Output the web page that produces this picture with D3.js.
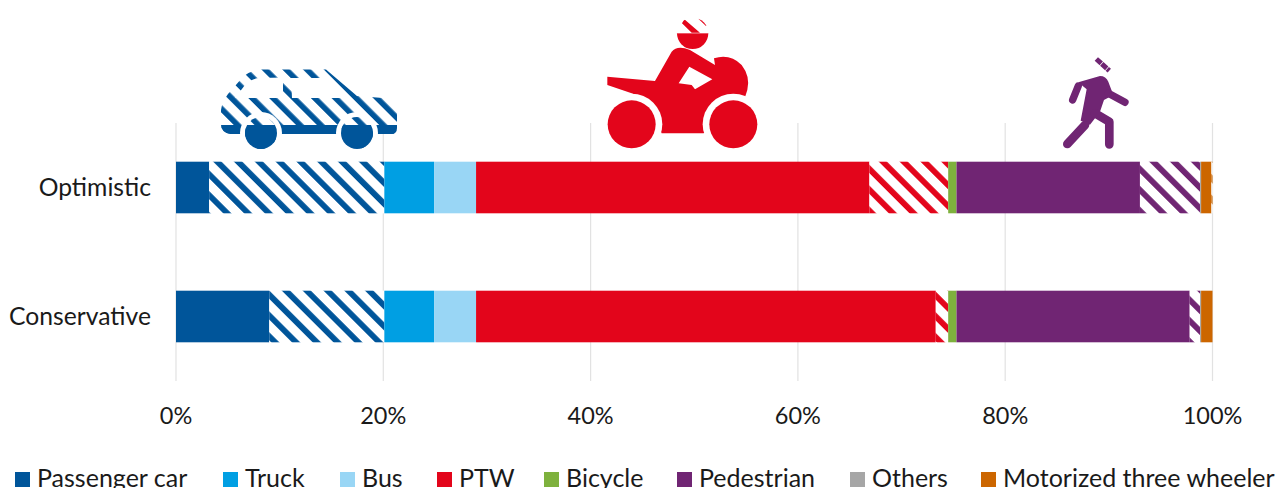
<!DOCTYPE html>
<html><head><meta charset="utf-8">
<script src="https://cdn.jsdelivr.net/npm/d3@7"></script>
<style>html,body{margin:0;padding:0;background:#fff;overflow:hidden}svg{display:block}text{font-family:Lato,"Open Sans",sans-serif;fill:#1a1a1a}</style>
</head><body><div id="chart"></div>
<script>
const categories = ["Optimistic", "Conservative"];
const tickValues = [0, 20, 40, 60, 80, 100];
const legendLabels = ["Passenger car", "Truck", "Bus", "PTW", "Bicycle", "Pedestrian", "Others", "Motorized three wheeler"];
const legendColors = ["#00559A", "#009FE3", "#99D6F5", "#E3051B", "#7EB13D", "#702573", "#A6A6A6", "#CC6600"];
const legendX = [15, 223, 340, 437, 544, 677, 850, 981];
// segment order: [legend colour index, hatched?]
const segmentColor = [0, 0, 1, 2, 3, 3, 4, 5, 5, 6, 7, 7];
const segmentHatched = [false, true, false, false, false, true, false, false, true, false, false, true];
const optimisticValues = [3.2, 16.9, 4.8, 4.05, 37.95, 7.6, 0.8, 17.7, 5.8, 0.1, 1.0, 0.1];
const conservativeValues = [9.0, 11.1, 4.8, 4.05, 44.35, 1.2, 0.8, 22.5, 1.0, 0.1, 1.1, 0.0];

const W = 1282, H = 488;
const svg = d3.select("#chart").append("svg").attr("width", W).attr("height", H);
const defs = svg.append("defs");
const x = d3.scaleLinear().domain([0, 100]).range([176, 1212.5]);
const y = d3.scaleBand().domain(categories).range([123, 381]).paddingInner(0.6).paddingOuter(0.3);

function hatch(id, color, phase, sw) {
  const period = 20.8 / Math.SQRT2;
  const p = defs.append("pattern").attr("id", id).attr("patternUnits", "userSpaceOnUse")
    .attr("width", period).attr("height", period)
    .attr("patternTransform", `translate(${phase},0) rotate(-45)`);
  p.append("rect").attr("width", period).attr("height", period).attr("fill", "#fff");
  p.append("rect").attr("width", sw).attr("height", period).attr("fill", color);
}
const rowPhase = [9.9, 12];
legendColors.forEach((c, i) => rowPhase.forEach((ph, r) => hatch(`h${i}r${r}`, c, ph, 5.8)));
hatch("carHatch", legendColors[0], 4.7, 5.6);

// gridlines
svg.append("g").selectAll("line").data(tickValues).join("line")
  .attr("x1", d => x(d)).attr("x2", d => x(d)).attr("y1", 123).attr("y2", 381)
  .attr("stroke", "#E2E2E2").attr("stroke-width", 1.2);

// stacked bars
const rows = [optimisticValues, conservativeValues];
const keys = d3.range(segmentColor.length);
const table = categories.map((c, i) => Object.assign({ cat: c, row: i }, rows[i]));
const stack = d3.stack().keys(keys)(table);
svg.append("g").selectAll("g").data(stack).join("g").each(function (s) {
  const k = s.key;
  d3.select(this).selectAll("rect").data(s).join("rect")
    .attr("x", d => x(d[0])).attr("width", d => x(d[1]) - x(d[0]))
    .attr("y", d => y(d.data.cat)).attr("height", y.bandwidth())
    .attr("fill", d => segmentHatched[k] ? `url(#h${segmentColor[k]}r${d.data.row})` : legendColors[segmentColor[k]]);
});

// axis labels
svg.append("g").selectAll("text").data(tickValues).join("text")
  .attr("x", d => x(d)).attr("y", 424).attr("text-anchor", "middle").attr("font-size", 23.5).text(d => d + "%");
svg.append("g").selectAll("text").data(categories).join("text")
  .attr("x", 151).attr("y", d => y(d) + y.bandwidth() / 2 + 8).attr("text-anchor", "end").attr("font-size", 24.7).text(d => d);

// legend
const lg = svg.append("g").selectAll("g").data(legendLabels).join("g");
lg.append("rect").attr("x", (d, i) => legendX[i]).attr("y", 472).attr("width", 15).attr("height", 15)
  .attr("fill", (d, i) => legendColors[i]);
lg.append("text").attr("x", (d, i) => legendX[i] + 22).attr("y", 487).attr("font-size", 25).text(d => d);

// icons (decorative pictograms)
defs.append("clipPath").attr("id", "carLow").append("rect").attr("x", 200).attr("y", 125).attr("width", 220).attr("height", 40);
const carBody = "M221,110 Q222,102 228,94 L242,78 Q250,70 262,69.5 L326,69.5 L357,96 L383,98 Q397,100 397,114 L397,128 Q397,134 391,134 L230,134 Q221,132 221,124 Z " +
  "M235,98 L245,85 Q252,78 260,78 L283,77.5 L283,98 Z M291,78 L324,78 L350,98 L292,98 Z";
const car = svg.append("g");
car.append("path").attr("d", carBody).attr("fill-rule", "evenodd").attr("fill", "url(#carHatch)");
car.append("path").attr("d", carBody).attr("fill-rule", "evenodd").attr("fill", legendColors[0]).attr("clip-path", "url(#carLow)");
[261, 357].forEach(cx => {
  car.append("circle").attr("cx", cx).attr("cy", 133).attr("r", 21).attr("fill", "#fff");
  car.append("circle").attr("cx", cx).attr("cy", 133).attr("r", 16).attr("fill", "url(#carHatch)");
  car.append("circle").attr("cx", cx).attr("cy", 133).attr("r", 16).attr("fill", legendColors[0]).attr("clip-path", "url(#carLow)");
});

const moto = svg.append("g").attr("transform", "translate(590,10) scale(0.3333)");
const red = legendColors[3];
moto.append("path").attr("fill", red).attr("fill-rule", "evenodd").attr("d",
  "M52,200 L195,213 L245,125 Q262,105 300,120 L375,165 L372,145 Q420,130 455,165 Q482,200 472,240 L465,262 L430,343 L340,370 L215,370 L180,290 Q160,262 125,250 L52,225 Z " +
  "M298,170 L367,208 L315,238 L305,225 L266,220 Z");
[125, 430].forEach(cx => {
  moto.append("circle").attr("cx", cx).attr("cy", 343).attr("r", 92).attr("fill", "#fff");
  moto.append("circle").attr("cx", cx).attr("cy", 343).attr("r", 72).attr("fill", red);
});
defs.append("clipPath").attr("id", "helmet").append("circle").attr("cx", 308).attr("cy", 70).attr("r", 47);
const hel = moto.append("g").attr("clip-path", "url(#helmet)");
hel.append("rect").attr("x", 255).attr("y", 70).attr("width", 110).attr("height", 50).attr("fill", red);
hel.append("path").attr("d", "M283,28 L330,68 L305,68 L276,40 Z M330,22 L352,45 L348,48 L325,26 Z").attr("fill", red);

const ped = svg.append("g").attr("transform", "translate(930,50) scale(0.3333)");
const pur = legendColors[5];
ped.append("path").attr("fill", pur).attr("d", "M445,97 L510,78 Q528,78 535,95 L550,135 L522,150 L510,185 L480,224 L452,212 L470,118 Z");
const limbs = [["M445,108 L428,150", 22], ["M535,130 L585,157", 22], ["M465,225 L412,282", 26], ["M495,190 L538,215 L538,283", 26]];
limbs.forEach(([d, w]) => ped.append("path").attr("d", d).attr("fill", "none").attr("stroke", pur)
  .attr("stroke-width", w).attr("stroke-linecap", "round").attr("stroke-linejoin", "round"));
ped.append("path").attr("d", "M499,27 L538,62").attr("stroke", pur).attr("stroke-width", 15).attr("stroke-dasharray", "20 2").attr("fill", "none");
</script></body></html>
